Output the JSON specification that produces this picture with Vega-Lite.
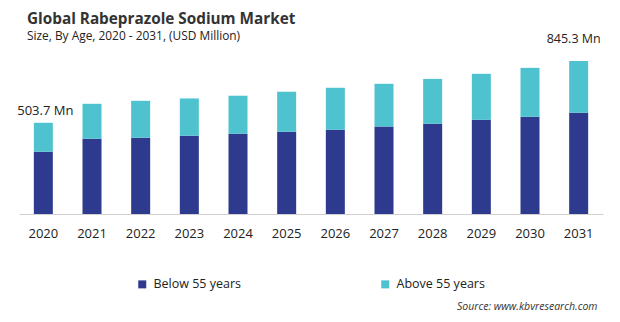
{
  "$schema": "https://vega.github.io/schema/vega-lite/v6.json",
  "width": 584,
  "height": 163,
  "autosize": {"type": "none"},
  "padding": {"left": 19, "top": 51, "right": 17, "bottom": 108},
  "background": "white",
  "title": {
    "text": "Global Rabeprazole Sodium Market",
    "subtitle": "Size, By Age,  2020 - 2031, (USD Million)",
    "anchor": "start",
    "frame": "group",
    "dx": 8,
    "offset": -9,
    "font": "Open Sans",
    "fontSize": 15.3,
    "fontWeight": "bold",
    "color": "#333333",
    "subtitleFont": "Open Sans",
    "subtitleFontSize": 11.9,
    "subtitleColor": "#222222",
    "subtitlePadding": 4
  },
  "config": {
    "view": {"stroke": null},
    "font": "Open Sans"
  },
  "datasets": {
    "segments": [
      {"year": "2020", "group": "Below 55 years", "value": 343.7},
      {"year": "2020", "group": "Above 55 years", "value": 160.0},
      {"year": "2021", "group": "Below 55 years", "value": 415.4},
      {"year": "2021", "group": "Above 55 years", "value": 193.1},
      {"year": "2022", "group": "Below 55 years", "value": 421.0},
      {"year": "2022", "group": "Above 55 years", "value": 204.0},
      {"year": "2023", "group": "Below 55 years", "value": 432.0},
      {"year": "2023", "group": "Above 55 years", "value": 206.0},
      {"year": "2024", "group": "Below 55 years", "value": 443.0},
      {"year": "2024", "group": "Above 55 years", "value": 210.0},
      {"year": "2025", "group": "Below 55 years", "value": 454.0},
      {"year": "2025", "group": "Above 55 years", "value": 221.0},
      {"year": "2026", "group": "Below 55 years", "value": 465.0},
      {"year": "2026", "group": "Above 55 years", "value": 232.0},
      {"year": "2027", "group": "Below 55 years", "value": 483.0},
      {"year": "2027", "group": "Above 55 years", "value": 236.0},
      {"year": "2028", "group": "Below 55 years", "value": 498.0},
      {"year": "2028", "group": "Above 55 years", "value": 248.0},
      {"year": "2029", "group": "Below 55 years", "value": 520.0},
      {"year": "2029", "group": "Above 55 years", "value": 254.0},
      {"year": "2030", "group": "Below 55 years", "value": 537.0},
      {"year": "2030", "group": "Above 55 years", "value": 270.0},
      {"year": "2031", "group": "Below 55 years", "value": 559.0},
      {"year": "2031", "group": "Above 55 years", "value": 286.3}
    ],
    "totals": [
      {"year": "2020", "total": 503.7, "label": "503.7 Mn"},
      {"year": "2031", "total": 845.3, "label": "845.3 Mn"}
    ]
  },
  "encoding": {
    "x": {
      "field": "year",
      "type": "ordinal",
      "scale": {"paddingInner": 0.6, "paddingOuter": 0.3},
      "axis": {
        "labelAngle": 0,
        "labelFontSize": 13,
        "labelColor": "#222222",
        "labelPadding": 13,
        "ticks": false,
        "domainColor": "#d0d0d0",
        "title": "Source: www.kbvresearch.com",
        "titleFontStyle": "italic",
        "titleFontWeight": "normal",
        "titleFontSize": 10.5,
        "titleColor": "#333333",
        "titleAnchor": "end",
        "titleAlign": "right",
        "titleX": 578,
        "titleY": 92,
        "titleBaseline": "middle"
      }
    }
  },
  "layer": [
    {
      "data": {"name": "segments"},
      "mark": {"type": "bar", "width": 19},
      "encoding": {
        "y": {
          "field": "value",
          "type": "quantitative",
          "aggregate": "sum",
          "stack": "zero",
          "scale": {"domain": [0, 900], "nice": false},
          "axis": null
        },
        "color": {
          "field": "group",
          "type": "nominal",
          "sort": ["Below 55 years", "Above 55 years"],
          "scale": {
            "domain": ["Below 55 years", "Above 55 years"],
            "range": ["#2D3A8E", "#4EC2CE"]
          },
          "legend": {
            "title": null,
            "orient": "none",
            "direction": "horizontal",
            "legendX": 117,
            "legendY": 227,
            "symbolType": "square",
            "symbolSize": 64,
            "symbolStrokeWidth": 0,
            "labelFontSize": 12.5,
            "labelColor": "#222222",
            "labelOffset": 5,
            "columnPadding": 137
          }
        }
      }
    },
    {
      "data": {"name": "totals"},
      "transform": [{"filter": "datum.year == '2020'"}],
      "mark": {"type": "text", "dy": -12, "dx": 2, "fontSize": 13, "color": "#222222"},
      "encoding": {
        "y": {"field": "total", "type": "quantitative"},
        "text": {"field": "label"}
      }
    },
    {
      "data": {"name": "totals"},
      "transform": [{"filter": "datum.year == '2031'"}],
      "mark": {"type": "text", "dy": -22, "dx": -5, "fontSize": 12.5, "color": "#222222"},
      "encoding": {
        "y": {"field": "total", "type": "quantitative"},
        "text": {"field": "label"}
      }
    }
  ]
}
